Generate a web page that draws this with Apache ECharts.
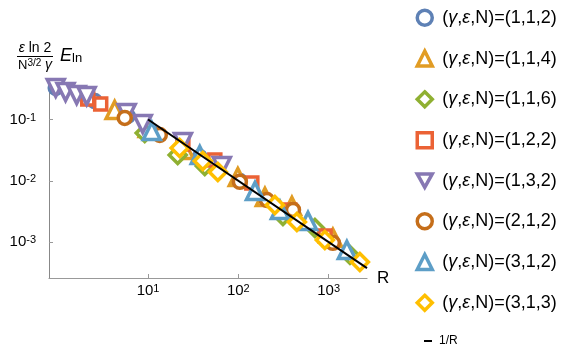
<!DOCTYPE html>
<html><head><meta charset="utf-8">
<script src="https://cdn.jsdelivr.net/npm/echarts@6/dist/echarts.min.js"></script>
<style>html,body{margin:0;padding:0;background:#fff}#c{width:583px;height:351px}</style>
</head><body><div id="c"></div>
<script>
// ---- data (R, scaled E_ln) ----
const legendNames = ['(γ,ε,N)=(1,1,2)','(γ,ε,N)=(1,1,4)','(γ,ε,N)=(1,1,6)','(γ,ε,N)=(1,2,2)',
                     '(γ,ε,N)=(1,3,2)','(γ,ε,N)=(2,1,2)','(γ,ε,N)=(3,1,2)','(γ,ε,N)=(3,1,3)'];
const s112 = [[0.95,0.327],[2.57,0.2],[5.96,0.114],[10.4,0.0675],[37.4,0.0244],[104,0.0099],[372,0.0031]];
const s114 = [[4.27,0.143],[9.93,0.0726],[25.5,0.0318],[98.7,0.0115],[197,0.00545],[392,0.00388],[1114,0.00117]];
const s116 = [[9.19,0.0602],[21.3,0.0264],[42.5,0.0174],[312,0.00267],[705,0.0017],[1722,0.000617]];
const s122 = [[2.15,0.216],[2.99,0.179],[24.3,0.0398],[54.9,0.0218],[141,0.0092],[372,0.00334],[912,0.00126]];
const s132 = [[0.95,0.327],[1.22,0.281],[1.62,0.251],[2.09,0.241],[5.8,0.128],[8.73,0.0845],[24.3,0.043],[65.6,0.0174]];
const s212 = [[5.52,0.106],[13.5,0.0559],[104,0.0096],[207,0.00486],[403,0.00334],[1114,0.00097]];
const s312 = [[11,0.0649],[37.4,0.0264],[153,0.00682],[289,0.00334],[591,0.00221],[1592,0.000743]];
const s313 = [[22.4,0.0343],[40.4,0.021],[59.3,0.0139],[254,0.00403],[445,0.00213],[908,0.00108],[2218,0.000473]];
const lineR = [[10,0.1],[2660,0.000376]];
const xTicks = [10,100,1000];
const yTicks = [0.1,0.01,0.001];

const allData = [s112,s114,s116,s122,s132,s212,s312,s313];
const colors = ['#5E81B5','#E19C24','#8FB032','#EB6235','#8778B3','#C56E1A','#5D9EC7','#FFBF00'];
const symbols = ['circle','triangle','diamond','rect','triangle','circle','triangle','diamond'];
const legendIcons = ['circle','triangle','diamond','rect','path://M0,0L20,0L10,18Z','circle','triangle','diamond'];
const sizes = [13,17,17,12,17,13,17,17];
const rotates = [0,0,0,0,180,0,0,0];

const chart = echarts.init(document.getElementById('c'), null, {renderer:'canvas'});
const FONT = 'Liberation Sans, Arial, sans-serif';
const supLabel = v => {
  const e = Math.round(Math.log10(v));
  return '{b|10}{s|' + (e < 0 ? '-' + (-e) : e) + '}';
};
const labelRich = {
  b:{fontSize:15, fontFamily:FONT, color:'#000', lineHeight:15, verticalAlign:'bottom'},
  s:{fontSize:11, fontFamily:FONT, color:'#000', lineHeight:11, verticalAlign:'top', padding:[0,0,8,0]}
};

const series = allData.map((d,i)=>({
  name: legendNames[i], type:'scatter', data:d,
  symbol:symbols[i], symbolSize:sizes[i], symbolRotate:rotates[i],
  itemStyle:{color:'#fff', borderColor:colors[i], borderWidth:3.5, opacity:1},
  emphasis:{disabled:true}, z:2+i
}));
series.push({name:'1/R', type:'line', data:lineR, symbol:'none',
  lineStyle:{color:'#000', width:2}, itemStyle:{color:'#000'}, z:20, silent:true});

const legendData = legendNames.map((n,i)=>({name:n, icon:legendIcons[i],
  itemStyle:{color:'#fff', borderColor:colors[i], borderWidth:3.5}}));

chart.setOption({
  animation:false,
  grid:{left:49, top:83, width:318, height:195},
  xAxis:{type:'log', logBase:10, min:0.8, max:2660,
    name:'R', nameLocation:'end', nameGap:10,
    nameTextStyle:{fontSize:17, fontFamily:FONT, color:'#000', verticalAlign:'middle'},
    axisLine:{show:true, lineStyle:{color:'#999', width:1.2}},
    axisTick:{show:true, inside:true, length:4, lineStyle:{color:'#999'}, customValues:xTicks},
    axisLabel:{margin:5, fontSize:15, formatter:supLabel, rich:labelRich, customValues:xTicks},
    splitLine:{show:false}, minorTick:{show:false}},
  yAxis:{type:'log', logBase:10, min:0.000259, max:0.394,
    axisLine:{show:true, lineStyle:{color:'#888', width:1}},
    axisTick:{show:true, inside:true, length:4, lineStyle:{color:'#999'}, customValues:yTicks},
    axisLabel:{margin:13, fontSize:15, formatter:supLabel, rich:labelRich, customValues:yTicks},
    splitLine:{show:false}, minorTick:{show:false}},
  legend:[{
    data:legendData, orient:'vertical', left:410.5, top:3.5,
    itemWidth:15, itemHeight:15, itemGap:22.3,
    symbolKeepAspect:true,
    textStyle:{fontSize:18, fontFamily:FONT, color:'#000', lineHeight:18, padding:[0,0,0,5],
      rich:{i:{fontStyle:'italic', fontSize:18, fontFamily:FONT, color:'#000', lineHeight:18}}},
    formatter: n => n.replace('γ','{i|γ}').replace('ε','{i|ε}'),
    selectedMode:false
  },{
    data:[{name:'1/R', icon:'rect', itemStyle:{color:'#000'}}], orient:'vertical', left:419, top:330,
    itemWidth:8, itemHeight:2, itemGap:0,
    textStyle:{fontSize:12, fontFamily:FONT, color:'#000', padding:[0,0,0,2]},
    selectedMode:false
  }],
  graphic:[
    {type:'text', style:{x:35, y:48, text:'{i|ε} ln 2', textAlign:'center', textVerticalAlign:'middle',
      font:'14px '+FONT, fill:'#000', rich:{i:{fontStyle:'italic', fontSize:14, fontFamily:FONT}}}},
    {type:'line', shape:{x1:17, y1:56.5, x2:53, y2:56.5}, style:{stroke:'#000', lineWidth:1}},
    {type:'text', style:{x:35, y:65, text:'N{s|3/2} {i|γ}', textAlign:'center', textVerticalAlign:'middle',
      font:'13px '+FONT, fill:'#000',
      rich:{i:{fontStyle:'italic', fontSize:14, fontFamily:FONT, verticalAlign:'bottom', lineHeight:14},
            s:{fontSize:10, fontFamily:FONT, verticalAlign:'top', lineHeight:10, padding:[0,0,5,0]}}}},
    {type:'text', style:{x:60, y:56, text:'{e|E}{l|ln}', textAlign:'left', textVerticalAlign:'middle',
      fill:'#000',
      rich:{e:{fontStyle:'italic', fontSize:18, fontFamily:FONT, lineHeight:18, verticalAlign:'top'},
            l:{fontSize:13, fontFamily:FONT, lineHeight:13, verticalAlign:'bottom', padding:[6,0,0,0]}}}}
  ],
  series:series
});
</script></body></html>
